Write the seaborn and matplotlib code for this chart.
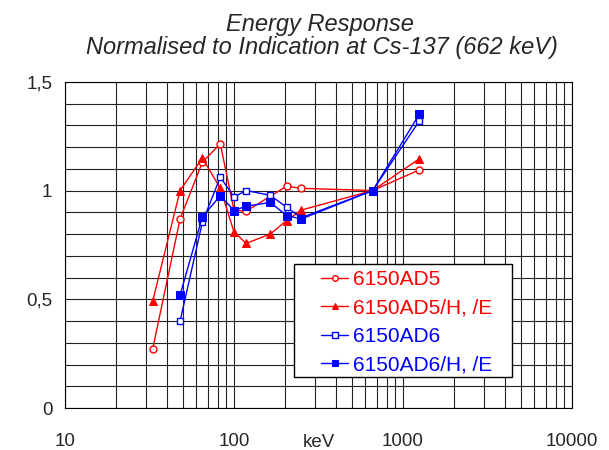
import pandas as pd
import matplotlib
matplotlib.use("Agg")
import matplotlib.pyplot as plt
from matplotlib.patches import Rectangle
from matplotlib.ticker import FixedLocator, LogLocator, FuncFormatter, NullFormatter
import seaborn as sns

# energies in keV, response normalised to Cs-137
e_ad5 = [33, 48, 65, 83, 100, 118, 205, 250, 662, 1250]
r_ad5 = [0.27, 0.87, 1.13, 1.215, 0.91, 0.905, 1.02, 1.01, 1.0, 1.095]

e_ad5h = [33, 48, 65, 83, 100, 118, 164, 205, 250, 662, 1250]
r_ad5h = [0.49, 1.0, 1.15, 1.01, 0.81, 0.757, 0.80, 0.862, 0.91, 1.0, 1.146]

e_ad6 = [48, 65, 83, 100, 118, 164, 205, 250, 662, 1250]
r_ad6 = [0.40, 0.854, 1.062, 0.97, 1.0, 0.978, 0.923, 0.875, 1.0, 1.32]

e_ad6h = [48, 65, 83, 100, 118, 164, 205, 250, 662, 1250]
r_ad6h = [0.52, 0.879, 0.976, 0.908, 0.928, 0.945, 0.885, 0.869, 1.0, 1.351]

sns.set_style("white")
plt.rcParams['font.family'] = ['Liberation Sans', 'DejaVu Sans']

fig = plt.figure(figsize=(6.09, 4.5), dpi=100)
ax = fig.add_axes([0.1067, 0.0933, 0.8325, 0.725])

red = '#FF0000'
blue = '#0000FF'

sns.lineplot(x=e_ad5, y=r_ad5, ax=ax, color=red, lw=1, marker='o', markersize=5,
             markerfacecolor='white', markeredgecolor=red, markeredgewidth=1, label='6150AD5')
sns.lineplot(x=e_ad5h, y=r_ad5h, ax=ax, color=red, lw=1, marker='^', markersize=6,
             markerfacecolor=red, markeredgecolor=red, label='6150AD5/H, /E')
sns.lineplot(x=e_ad6, y=r_ad6, ax=ax, color=blue, lw=1, marker='s', markersize=4.5,
             markerfacecolor='white', markeredgecolor=blue, markeredgewidth=1, label='6150AD6')
sns.lineplot(x=e_ad6h, y=r_ad6h, ax=ax, color=blue, lw=1, marker='s', markersize=5.5,
             markerfacecolor=blue, markeredgecolor=blue, label='6150AD6/H, /E')

ax.set_xscale('log')
ax.set_xlim(10, 10000)
ax.set_ylim(0, 1.5)

ax.xaxis.set_major_locator(FixedLocator([10, 100, 1000, 10000]))
ax.xaxis.set_minor_locator(LogLocator(base=10, subs=range(2, 10)))
ax.xaxis.set_minor_formatter(NullFormatter())
ax.xaxis.set_major_formatter(FuncFormatter(lambda v, p: f"{int(v)}"))
ax.yaxis.set_major_locator(FixedLocator([0, 0.5, 1.0, 1.5]))
ax.yaxis.set_minor_locator(FixedLocator([i / 10 for i in range(16)]))
ax.yaxis.set_major_formatter(FuncFormatter(lambda v, p: f"{v:g}".replace('.', ',')))

ax.grid(True, which='both', color='#222222', lw=0.8)
ax.set_axisbelow(True)
for s in ax.spines.values():
    s.set_color('black')
    s.set_linewidth(0.8)

ax.tick_params(axis='both', which='major', labelsize=13.5, direction='out', length=5,
               width=0.8, color='black')
ax.tick_params(axis='x', which='major', pad=13)
ax.tick_params(axis='x', which='minor', direction='out', length=4, width=0.8, color='black')
ax.tick_params(axis='y', which='minor', length=0)
ax.tick_params(axis='y', which='major', pad=4)

ax.set_xlabel('keV', fontsize=13.5)
ax.xaxis.set_label_coords(0.5, -0.12)
ax.xaxis.label.set_va('baseline')
ax.set_ylabel('')

# two-line italic title
fig.text(0.526, 1 - 30.7 / 450, 'Energy Response', fontsize=17, style='italic',
         ha='center', va='baseline')
fig.text(0.528, 1 - 54 / 450, 'Normalised to Indication at Cs-137 (662 keV)', fontsize=17,
         style='italic', ha='center', va='baseline')

# legend box
ax.add_patch(Rectangle((0.4517, 0.095), 0.430, 0.346, transform=ax.transAxes,
                       facecolor='white', edgecolor='black', lw=1, zorder=4))
leg = ax.legend(loc='upper left', bbox_to_anchor=(0.505, 0.422), fontsize=15,
                frameon=False, handlelength=1.3, borderpad=0, labelspacing=0.45,
                handletextpad=0.25, borderaxespad=0)
leg.set_zorder(5)
for txt, c in zip(leg.get_texts(), [red, red, blue, blue]):
    txt.set_color(c)
for h in leg.legend_handles:
    h.set_markersize(4)

fig.savefig('out.png', dpi=100)
